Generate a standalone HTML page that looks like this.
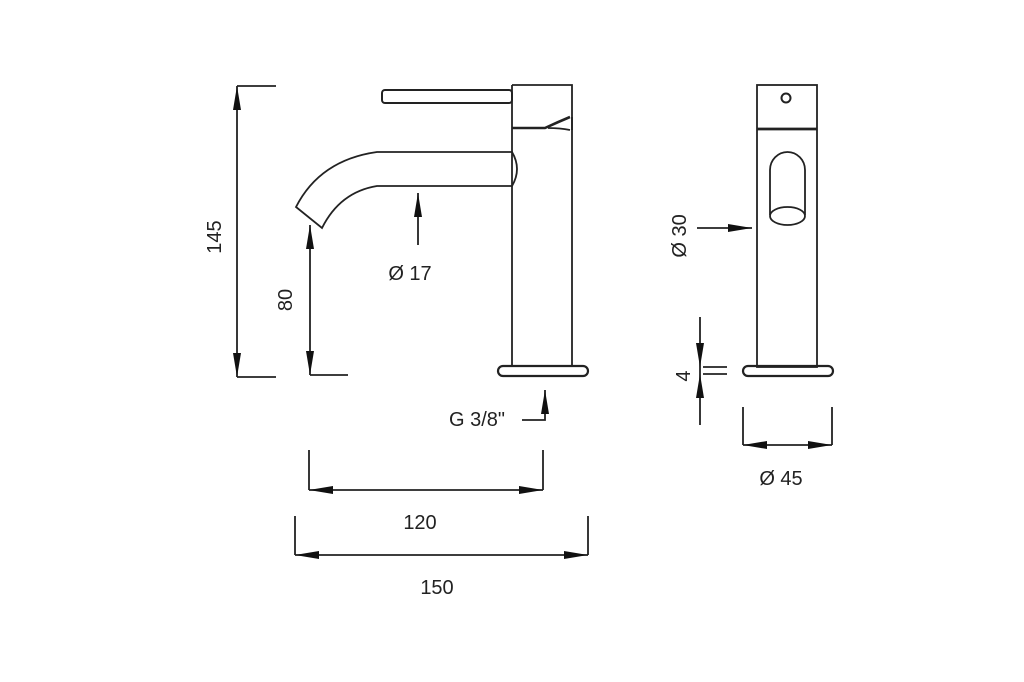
<!DOCTYPE html>
<html><head><meta charset="utf-8"><style>
html,body{margin:0;padding:0;background:#fff}
svg{display:block}
text{font-family:"Liberation Sans",sans-serif;font-size:20px;fill:#222}
</style></head><body>
<svg width="1024" height="682" viewBox="0 0 1024 682" xmlns="http://www.w3.org/2000/svg">
<defs>
<marker id="a" viewBox="0 0 24 10" refX="24" refY="5" markerWidth="24" markerHeight="10" markerUnits="userSpaceOnUse" orient="auto-start-reverse"><path d="M0,1 L24,5 L0,9 Z" fill="#111"/></marker>
</defs>
<g fill="none" stroke="#222" stroke-width="1.8">
<rect x="382" y="90" width="130" height="13" rx="3" stroke-width="2"/>
<path d="M512,85 H572 V130"/>
<line x1="512" y1="85" x2="512" y2="367"/>
<line x1="572" y1="117" x2="572" y2="367"/>
<path d="M512,128 H545 Q558,122 570,117" stroke-width="2.6"/>
<path d="M548,128 Q560,128 570,130"/>
<path d="M377,152 H512 Q522,169 512,186 H377 Q340,192 322,228 L296,207 Q320,160 377,152 Z"/>
<rect x="498" y="366" width="90" height="10" rx="5" stroke-width="2.2"/>
<line x1="418" y1="245" x2="418" y2="193" marker-end="url(#a)"/>
<line x1="310" y1="225" x2="310" y2="375" marker-start="url(#a)" marker-end="url(#a)"/>
<line x1="310" y1="375" x2="348" y2="375"/>
<line x1="237" y1="86" x2="237" y2="377" marker-start="url(#a)" marker-end="url(#a)"/>
<line x1="237" y1="86" x2="276" y2="86"/>
<line x1="237" y1="377" x2="276" y2="377"/>
<polyline points="522,420 545,420 545,390" marker-end="url(#a)"/>
<line x1="309" y1="450" x2="309" y2="490"/>
<line x1="543" y1="450" x2="543" y2="490"/>
<line x1="309" y1="490" x2="543" y2="490" marker-start="url(#a)" marker-end="url(#a)"/>
<line x1="295" y1="516" x2="295" y2="555"/>
<line x1="588" y1="516" x2="588" y2="555"/>
<line x1="295" y1="555" x2="588" y2="555" marker-start="url(#a)" marker-end="url(#a)"/>
<rect x="757" y="85" width="60" height="282"/>
<line x1="757" y1="129" x2="817" y2="129" stroke-width="2.8"/>
<circle cx="786" cy="98" r="4.5" stroke-width="2"/>
<path d="M770,215 V170 A17.5,18 0 0 1 805,170 V215"/>
<ellipse cx="787.5" cy="216" rx="17.5" ry="9"/>
<rect x="743" y="366" width="90" height="10" rx="5" stroke-width="2.2"/>
<line x1="697" y1="228" x2="752" y2="228" marker-end="url(#a)"/>
<line x1="700" y1="317" x2="700" y2="367" marker-end="url(#a)"/>
<line x1="700" y1="425" x2="700" y2="374" marker-end="url(#a)"/>
<line x1="700" y1="367" x2="700" y2="374"/>
<line x1="703" y1="367" x2="727" y2="367"/>
<line x1="703" y1="374" x2="727" y2="374"/>
<line x1="743" y1="407" x2="743" y2="445"/>
<line x1="832" y1="407" x2="832" y2="445"/>
<line x1="743" y1="445" x2="832" y2="445" marker-start="url(#a)" marker-end="url(#a)"/>
</g>
<text x="410" y="280" text-anchor="middle">Ø 17</text>
<text x="477" y="426" text-anchor="middle">G 3/8"</text>
<text x="420" y="529" text-anchor="middle">120</text>
<text x="437" y="594" text-anchor="middle">150</text>
<text x="781" y="485" text-anchor="middle">Ø 45</text>
<text transform="translate(292,300) rotate(-90)" text-anchor="middle">80</text>
<text transform="translate(221,237) rotate(-90)" text-anchor="middle">145</text>
<text transform="translate(686,236) rotate(-90)" text-anchor="middle">Ø 30</text>
<text transform="translate(690,376) rotate(-90)" text-anchor="middle">4</text>
</svg>
</body></html>
